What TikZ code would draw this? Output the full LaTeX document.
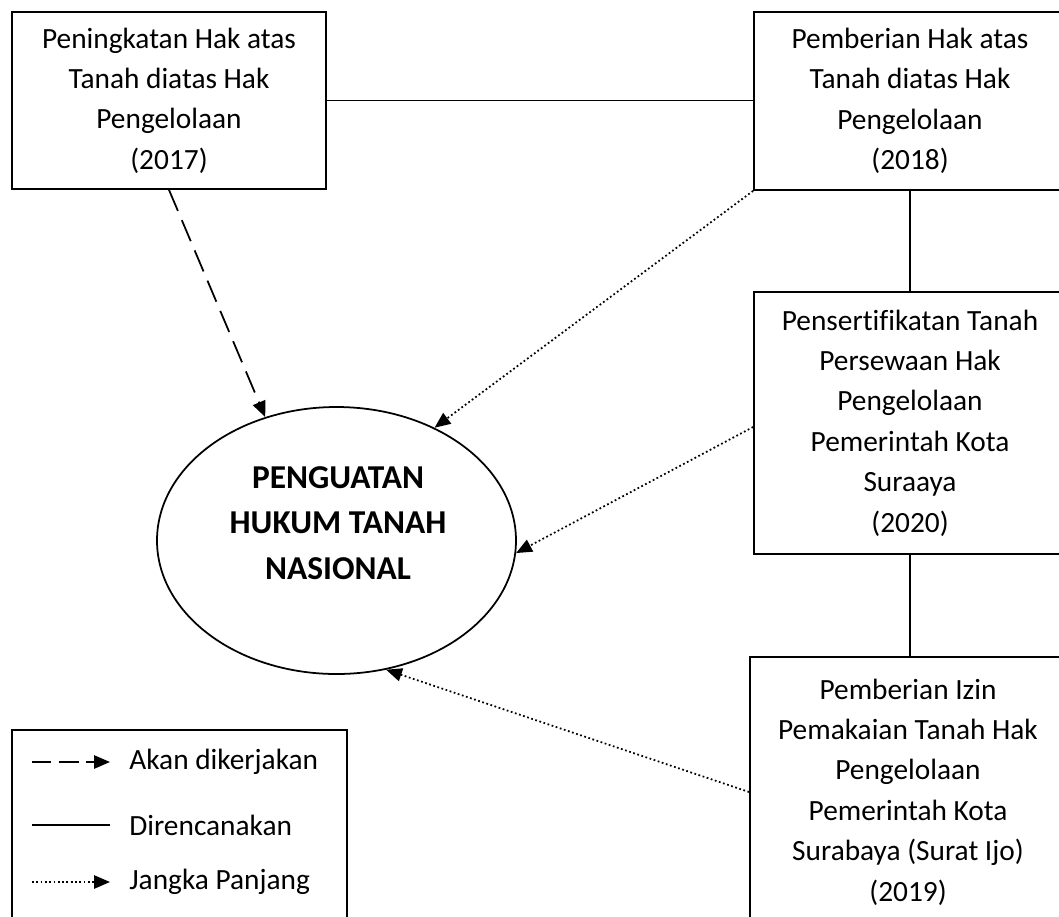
\documentclass[tikz,border=0pt]{standalone}
\usepackage{fontspec}
\setmainfont{Carlito}[Ligatures={NoCommon}]
\usetikzlibrary{shapes.geometric, arrows.meta, positioning}
\tikzset{
  prog/.style={rectangle, draw, line width=1pt, align=center,
               font=\fontsize{16.7}{23}\selectfont, inner sep=2pt},
  goal/.style={ellipse, draw, line width=1pt,
               minimum width=7.18cm, minimum height=5.34cm},
  goaltxt/.style={align=center, font=\fontsize{19}{26}\selectfont\bfseries},
  plan/.style={line width=1pt},
  soon/.style={-{Triangle[length=9pt,width=7.5pt]}, line width=1pt,
               dash pattern=on 13pt off 5.7pt},
  longterm/.style={-{Triangle[length=9pt,width=7.5pt]}, line width=1pt,
                   dash pattern=on 1pt off 1.45pt},
  key/.style={anchor=west, inner sep=0pt, font=\fontsize{16.7}{23}\selectfont},
}
\begin{document}
\begin{tikzpicture}
  \useasboundingbox (0,0) rectangle (21.18,-18.32);

  % programmes
  \node[prog, minimum width=6.28cm, minimum height=3.54cm] (upgr) at (3.38,-2.01)
    {Peningkatan Hak atas\\Tanah diatas Hak\\Pengelolaan\\(2017)};
  \node[prog, minimum width=6.24cm, minimum height=3.56cm] (grant) at (18.2,-2.02)
    {Pemberian Hak atas\\Tanah diatas Hak\\Pengelolaan\\(2018)};
  \node[prog, minimum width=6.24cm, minimum height=5.24cm] (cert) at (18.2,-8.46)
    {Pensertifikatan Tanah\\Persewaan Hak\\Pengelolaan\\Pemerintah Kota\\Suraaya\\(2020)};
  \node[prog, minimum width=6.32cm, minimum height=5.4cm] (permit) at (18.16,-15.84)
    {Pemberian Izin\\Pemakaian Tanah Hak\\Pengelolaan\\Pemerintah Kota\\Surabaya (Surat Ijo)\\(2019)};

  % goal
  \node[goal] (goal) at (6.73,-10.81) {};
  \node[goaltxt] (goaltext) at (6.76,-10.46) {PENGUATAN\\HUKUM TANAH\\NASIONAL};

  \draw[plan] (upgr.east) -- (upgr.east -| grant.west);
  \draw[plan] (grant.south) -- (cert.north);
  \draw[plan] (cert.south) -- (cert.south |- permit.north);

  \draw[soon] (upgr.south) -- (goal.120);
  \draw[longterm] (grant.south west) -- (goal.49);
  \draw[longterm] ([yshift=-0.08cm]cert.west) -- (goal.-4);
  \draw[longterm] (permit.west) -- (goal.-69);

  % legend
  \node[draw, line width=1pt, minimum width=6.7cm, minimum height=4.2cm] (legend) at (3.59,-16.7) {};
  \coordinate (k1) at (0.64,-15.24);
  \coordinate (k2) at (0.64,-16.5);
  \coordinate (k3) at (0.64,-17.64);
  \node[key] (t1) at (2.58,-15.24) {Akan dikerjakan};
  \node[key] (t2) at (2.58,-16.5) {Direncanakan};
  \node[key] (t3) at (2.58,-17.64) {Jangka Panjang};
  \draw[soon, dash pattern=on 11pt off 4.5pt] (k1) -- ([xshift=-0.38cm]t1.west);
  \draw[plan] (k2) -- ([xshift=-0.38cm]t2.west);
  \draw[longterm] (k3) -- ([xshift=-0.38cm]t3.west);
\end{tikzpicture}
\end{document}
